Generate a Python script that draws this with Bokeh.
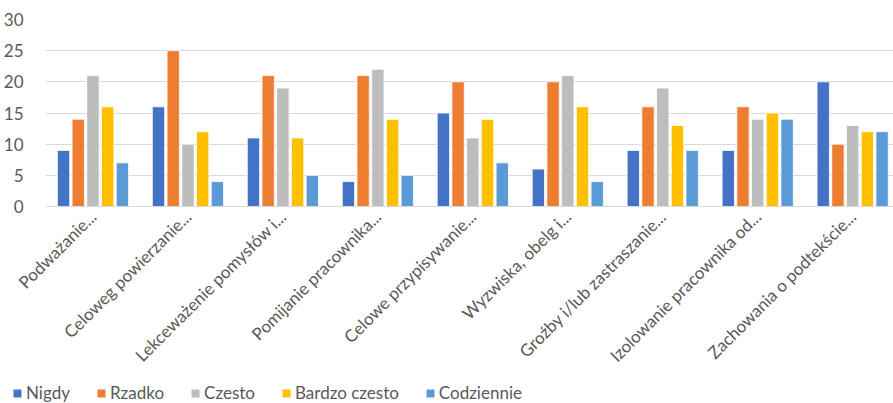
from math import pi
from bokeh.plotting import figure
from bokeh.layouts import column, row
from bokeh.models import (ColumnDataSource, Range1d, Legend, LegendItem, FixedTicker)
from bokeh.transform import dodge
from bokeh.embed import file_html
from bokeh.resources import INLINE

categories = ["Podważanie...", "Celoweg powierzanie...", "Lekceważenie pomysłów i...",
              "Pomijanie pracownika...", "Celowe przypisywanie...", "Wyzwiska, obelg i...",
              "Groźby i/lub zastraszanie...", "Izolowanie pracownika od...",
              "Zachowania o podtekście..."]
series_names = ["Nigdy", "Rzadko", "Czesto", "Bardzo czesto", "Codziennie"]
nigdy = [9, 16, 11, 4, 15, 6, 9, 9, 20]
rzadko = [14, 25, 21, 21, 20, 20, 16, 16, 10]
czesto = [21, 10, 19, 22, 11, 21, 19, 14, 13]
bardzo_czesto = [16, 12, 11, 14, 14, 16, 13, 15, 12]
codziennie = [7, 4, 5, 5, 7, 4, 9, 14, 12]
y_ticks = [0, 5, 10, 15, 20, 25, 30]

colors = ["#4472C4", "#ED7D31", "#BDBDBD", "#FFC000", "#5B9BD5"]
values = [nigdy, rzadko, czesto, bardzo_czesto, codziennie]
keys = ["s0", "s1", "s2", "s3", "s4"]

# category centres on a numeric axis (the original plot area is cropped at the right)
xc = [i + 0.5 for i in range(len(categories))]
data = {"x": xc}
for k, v in zip(keys, values):
    data[k] = v
source = ColumnDataSource(data)

FONT = "Lato"
GREY = "#595959"
W = 893

p = figure(x_range=Range1d(0, 8.93), y_range=Range1d(0, 30),
           width=W, height=378, output_backend="svg", toolbar_location=None,
           min_border_left=44, min_border_right=0, min_border_top=19, min_border_bottom=172)
p.outline_line_color = None

offsets = [-0.31, -0.155, 0.0, 0.155, 0.31]
renderers = []
for k, off, c in zip(keys, offsets, colors):
    r = p.vbar(x=dodge("x", off), top=k, width=0.13, source=source,
               fill_color=c, line_color="white", line_width=0.8)
    renderers.append(r)

p.yaxis.ticker = FixedTicker(ticks=y_ticks)
p.yaxis.axis_line_color = None
p.yaxis.major_tick_line_color = None
p.yaxis.minor_tick_line_color = None
p.yaxis.major_label_text_font = FONT
p.yaxis.major_label_text_font_size = "17px"
p.yaxis.major_label_text_color = GREY
p.yaxis.major_label_standoff = 16

p.xaxis.ticker = FixedTicker(ticks=xc)
p.xaxis.major_label_overrides = {x: c for x, c in zip(xc, categories)}
p.xaxis.axis_line_color = "#D9D9D9"
p.xaxis.major_tick_line_color = None
p.xaxis.minor_tick_line_color = None
p.xaxis.major_label_orientation = pi / 4
p.xaxis.major_label_text_font = FONT
p.xaxis.major_label_text_font_size = "17px"
p.xaxis.major_label_text_color = GREY
p.xaxis.major_label_standoff = 1

p.xgrid.grid_line_color = None
p.ygrid.grid_line_color = "#D9D9D9"
p.ygrid.grid_line_width = 1

# legend strip
lg = figure(width=W, height=25, output_backend="svg", toolbar_location=None,
            x_range=(0, 1), y_range=(0, 1),
            min_border_left=0, min_border_right=0, min_border_top=0, min_border_bottom=0)
lg.axis.visible = False
lg.grid.visible = False
lg.outline_line_color = None
lrs = []
for c in colors:
    lrs.append(lg.vbar(x=[-5], top=[0], width=0.1, fill_color=c, line_color=None))
items = [LegendItem(label=n, renderers=[r]) for n, r in zip(series_names, lrs)]
legend = Legend(items=items, orientation="horizontal", location=(12, 0),
                label_text_font=FONT, label_text_font_size="17px", label_text_color=GREY,
                glyph_width=10, glyph_height=10, spacing=26, label_standoff=4,
                border_line_color=None, background_fill_alpha=0, padding=0, margin=0)
lg.add_layout(legend, "center")

open("out.html", "w").write(file_html(column(p, row(lg), spacing=0), INLINE))
